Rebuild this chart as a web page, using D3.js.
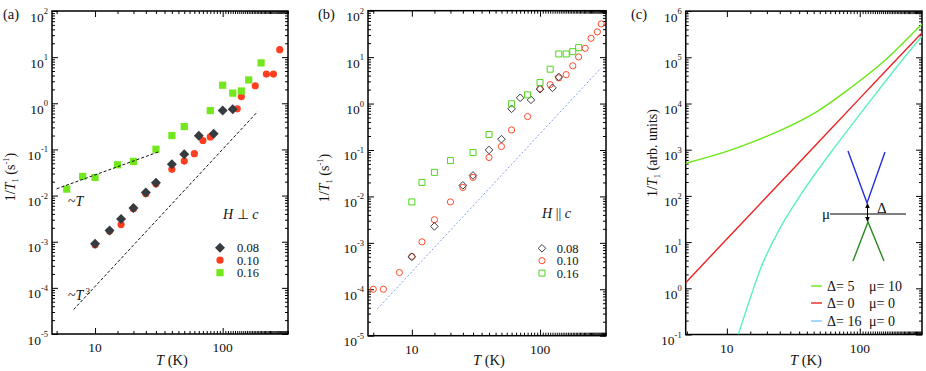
<!DOCTYPE html>
<html lang="en">
<head>
<meta charset="utf-8">
<script src="https://d3js.org/d3.v7.min.js"></script>
<style>
body { margin: 0; background: #fff; }
svg text { font-family: "Liberation Serif", "Times New Roman", serif; fill: #111; }
</style>
</head>
<body>
<script>

// ---- panel (a) : H perpendicular c, filled markers
var tA08 = [10, 13, 16, 20, 25, 30, 40, 50, 65, 85, 100, 120];
var rA08 = [9e-4, 1.76e-3, 3.1e-3, 5.4e-3, 0.0117, 0.019, 0.048, 0.079, 0.197, 0.218, 0.70, 0.745];
var tA10 = [10, 13, 16, 20, 25, 30, 40, 50, 60, 70, 80, 130, 140, 180, 220, 250, 280];
var rA10 = [8.6e-4, 1.7e-3, 2.35e-3, 5.2e-3, 0.011, 0.018, 0.037, 0.056, 0.081, 0.156, 0.187, 0.757, 1.4, 2.4, 4.3, 4.3, 14.5];
var tA16 = [6, 8, 10, 15, 20, 30, 40, 50, 80, 100, 120, 140, 160, 200];
var rA16 = [0.0138, 0.026, 0.0247, 0.0465, 0.055, 0.101, 0.2, 0.313, 0.695, 2.46, 1.66, 1.85, 3.2, 7.5];
var guideLinT = [[5, 0.014], [32, 0.09]];
var guideCubT = [[6.8, 3.4e-5], [188, 0.66]];

// ---- panel (b) : H parallel c, open markers
var tB08 = [10, 15, 25, 30, 40, 50, 60, 70, 85, 100, 125, 140];
var rB08 = [5e-4, 2.26e-3, 0.0173, 0.0283, 0.1, 0.171, 0.77, 1.33, 1.2, 2.04, 2.18, 3.75];
var tB10 = [5, 6, 8, 10, 12, 15, 20, 25, 30, 40, 50, 60, 80, 100, 120, 140, 160, 180, 200, 225, 250, 280, 300];
var rB10 = [1e-4, 1e-4, 2.3e-4, 5.1e-4, 1.05e-3, 3.15e-3, 7.6e-3, 0.0156, 0.0257, 0.069, 0.119, 0.27, 0.525, 2.1, 2.56, 3.57, 4.2, 6.5, 10.1, 15.5, 25.5, 35, 52];
var tB16 = [10, 12, 15, 20, 30, 40, 60, 80, 100, 120, 140, 160, 180, 200];
var rB16 = [7.6e-3, 0.02, 0.033, 0.059, 0.088, 0.215, 0.99, 1.54, 2.83, 5.5, 11.7, 11.7, 13.1, 16];
var guideB = [[5.4, 3.8e-5], [300, 5.9]];

// ---- panel (c) : model curves
var tC5 = [4.78, 10, 15, 27, 48, 85, 152, 271, 300];
var rC5 = [498, 920, 1400, 2850, 6780, 21600, 81900, 416000, 550000];
var tC0 = [4.8, 10, 30, 100, 300];
var rC0 = [1.24, 11.7, 330, 12900, 362000];
var tC16 = [12.2, 15.4, 18.8, 25.2, 36.6, 58, 94.8, 138, 193, 300];
var rC16 = [0.1, 0.774, 3.73, 20.4, 115, 740, 4760, 19200, 65600, 308000];

var legendFields = ['0.08', '0.10', '0.16'];
var legendC = [['\u0394= 5', '\u03bc= 10'], ['\u0394= 0', '\u03bc= 0'], ['\u0394= 16', '\u03bc= 0']];

var W = 926, H = 371;
var svg = d3.select('body').append('svg').attr('width', W).attr('height', H);

function zip(t, r) { return t.map(function(d, i) { return [d, r[i]]; }); }

// draws frame, inward ticks on all four sides and the tick labels
function panel(p) {
  var x = d3.scaleLog().domain(p.xd).range([p.l, p.r]);
  var y = d3.scaleLog().domain(p.yd).range([p.b, p.t]);
  var g = svg.append('g');
  var isPow = function(v) { return Math.abs(Math.log10(v) - Math.round(Math.log10(v))) < 1e-9; };
  var xt = x.ticks(50), yt = y.ticks(50);
  var xMaj = xt.filter(isPow), xMin = xt.filter(function(v) { return !isPow(v); });
  var yMaj = yt.filter(isPow), yMin = yt.filter(function(v) { return !isPow(v); });

  function ax(gen, scale, vals, size, tr) {
    g.append('g').attr('transform', tr)
      .call(gen(scale).tickValues(vals).tickSize(size).tickFormat(''))
      .call(function(s) { s.select('.domain').remove(); s.selectAll('line').attr('stroke', '#000'); });
  }
  ax(d3.axisBottom, x, xMin, -3, 'translate(0,' + p.b + ')');
  ax(d3.axisBottom, x, xMaj, -6, 'translate(0,' + p.b + ')');
  ax(d3.axisTop, x, xMin, -3, 'translate(0,' + p.t + ')');
  ax(d3.axisTop, x, xMaj, -6, 'translate(0,' + p.t + ')');
  ax(d3.axisLeft, y, yMin, -3, 'translate(' + p.l + ',0)');
  ax(d3.axisLeft, y, yMaj, -6, 'translate(' + p.l + ',0)');
  ax(d3.axisRight, y, yMin, -3, 'translate(' + p.r + ',0)');
  ax(d3.axisRight, y, yMaj, -6, 'translate(' + p.r + ',0)');

  g.append('rect').attr('x', p.l).attr('y', p.t).attr('width', p.r - p.l).attr('height', p.b - p.t)
    .attr('fill', 'none').attr('stroke', '#000').attr('stroke-width', 1.5);

  // y tick labels 10^n
  yMaj.forEach(function(v) {
    var t = g.append('text').attr('x', p.l - 4).attr('y', y(v) + 10.5)
      .attr('text-anchor', 'end').style('font-size', '13.5px');
    t.append('tspan').text('10');
    t.append('tspan').attr('dy', -7.5).style('font-size', '8.5px').text(Math.round(Math.log10(v)));
  });
  xMaj.forEach(function(v) {
    g.append('text').attr('x', x(v)).attr('y', p.b + 18).attr('text-anchor', 'middle')
      .style('font-size', '13.5px').text(v);
  });

  // x label
  var xl = g.append('text').attr('x', (p.l + p.r) / 2 + 2).attr('y', H - 6)
    .attr('text-anchor', 'middle').style('font-size', '14.5px');
  xl.append('tspan').style('font-style', 'italic').text('T');
  xl.append('tspan').text(' (K)');

  // y label
  var yl = g.append('text').attr('transform', 'translate(' + p.yl[0] + ',' + p.yl[1] + ') rotate(-90)')
    .attr('text-anchor', 'middle').style('font-size', '14px');
  yl.append('tspan').text('1/');
  yl.append('tspan').style('font-style', 'italic').text('T');
  yl.append('tspan').attr('dy', 3).style('font-size', '8.5px').text('1');
  yl.append('tspan').attr('dy', -3).text(p.unit[0]);
  if (p.unit[1]) {
    yl.append('tspan').attr('dy', -6).style('font-size', '8.5px').text(p.unit[1]);
    yl.append('tspan').attr('dy', 6).text(p.unit[2]);
  }

  g.append('text').attr('x', p.lab[0]).attr('y', 19).style('font-size', '14.5px').text(p.lab[1]);

  var cid = 'clip' + p.lab[1].charAt(1);
  svg.append('clipPath').attr('id', cid).append('rect')
    .attr('x', p.l).attr('y', p.t).attr('width', p.r - p.l).attr('height', p.b - p.t);
  var plot = svg.append('g').attr('clip-path', 'url(#' + cid + ')');
  return { x: x, y: y, g: g, plot: plot };
}

function diamond(s) { return 'M0,' + (-s) + 'L' + s + ',0L0,' + s + 'L' + (-s) + ',0Z'; }
function square(s) { return 'M' + (-s) + ',' + (-s) + 'H' + s + 'V' + s + 'H' + (-s) + 'Z'; }
function circle(s) { return d3.symbol(d3.symbolCircle, Math.PI * s * s)(); }

function markers(P, data, shape, size, fill, stroke, sw) {
  P.g.append('g').selectAll('path').data(data).enter().append('path')
    .attr('transform', function(d) { return 'translate(' + P.x(d[0]) + ',' + P.y(d[1]) + ')'; })
    .attr('d', shape(size)).attr('fill', fill).attr('stroke', stroke).attr('stroke-width', sw);
}

function guide(P, pts, color, dash, w) {
  P.plot.append('path').datum(pts)
    .attr('d', d3.line().x(function(d) { return P.x(d[0]); }).y(function(d) { return P.y(d[1]); }))
    .attr('fill', 'none').attr('stroke', color).attr('stroke-width', w).attr('stroke-dasharray', dash);
}

var cDia = '#363b40', cRed = '#ff3d1f', cGrn = '#72e81c';

// ============ (a)
var A = panel({ l: 52, r: 288, t: 11, b: 334, xd: [4.6, 325], yd: [1e-5, 1e2],
  yl: [15, 177], unit: [' (s', '-1', ')'], lab: [3, '(a)'] });
guide(A, guideLinT, '#111', '3,2', 1);
guide(A, guideCubT, '#111', '3,2', 1);
markers(A, zip(tA10, rA10), circle, 3.6, cRed, 'none', 0);
markers(A, zip(tA08, rA08), diamond, 5, cDia, 'none', 0);
markers(A, zip(tA16, rA16), square, 3.6, cGrn, 'none', 0);

var tl = A.g.append('text').attr('x', 68).attr('y', 206).style('font-size', '14px');
tl.append('tspan').text('~');
tl.append('tspan').style('font-style', 'italic').text('T');
var tc = A.g.append('text').attr('x', 68).attr('y', 300).style('font-size', '14px');
tc.append('tspan').text('~');
tc.append('tspan').style('font-style', 'italic').text('T');
tc.append('tspan').attr('dy', -6).attr('dx', 2).style('font-size', '9px').text('3');

var hA = A.g.append('text').attr('x', 223).attr('y', 219).style('font-size', '14px');
hA.append('tspan').style('font-style', 'italic').text('H');
hA.append('tspan').text(' \u22a5 ');
hA.append('tspan').style('font-style', 'italic').text('c');

var legA = [[diamond, 5, cDia], [circle, 3.6, cRed], [square, 3.6, cGrn]];
legA.forEach(function(m, i) {
  var yy = 247.7 + i * 12.5;
  A.g.append('path').attr('transform', 'translate(220,' + yy + ')').attr('d', m[0](m[1])).attr('fill', m[2]);
  A.g.append('text').attr('x', 237).attr('y', yy + 4.5).style('font-size', '12.5px').text(legendFields[i]);
});

// ============ (b)
var B = panel({ l: 368, r: 606, t: 10.7, b: 335.7, xd: [4.55, 327], yd: [1e-5, 1e2],
  yl: [329, 178], unit: [' (s', '-1', ')'], lab: [318, '(b)'] });
guide(B, guideB, '#7f9cf5', '2,2', 1);
markers(B, zip(tB10, rB10), circle, 3.1, 'none', '#ff4a2a', 1);
markers(B, zip(tB08, rB08), diamond, 3.8, 'none', '#3a3d42', 1);
markers(B, zip(tB16, rB16), square, 3, 'none', '#4fd61c', 1);

var hB = B.g.append('text').attr('x', 542).attr('y', 218).style('font-size', '14px');
hB.append('tspan').style('font-style', 'italic').text('H');
hB.append('tspan').text(' || ');
hB.append('tspan').style('font-style', 'italic').text('c');

var legB = [[diamond, 3.8, '#3a3d42'], [circle, 3.1, '#ff4a2a'], [square, 3, '#4fd61c']];
legB.forEach(function(m, i) {
  var yy = 248.3 + i * 12.4;
  B.g.append('path').attr('transform', 'translate(542,' + yy + ')').attr('d', m[0](m[1]))
    .attr('fill', 'none').attr('stroke', m[2]).attr('stroke-width', 1);
  B.g.append('text').attr('x', 556.7).attr('y', yy + 4.5).style('font-size', '12.5px').text(legendFields[i]);
});

// ============ (c)
var C = panel({ l: 685.7, r: 922, t: 11.1, b: 334.5, xd: [4.9, 294], yd: [1e-1, 1e6],
  yl: [657, 153], unit: [' (arb. units)'], lab: [631, '(c)'] });

var curveColors = ['#6ae614', '#ee2222', '#5cf0c0'];
var curves = [zip(tC5, rC5), zip(tC0, rC0), zip(tC16, rC16)];
var line = d3.line().curve(d3.curveCatmullRom.alpha(0.5))
  .x(function(d) { return C.x(d[0]); }).y(function(d) { return C.y(d[1]); });
curves.forEach(function(c, i) {
  C.plot.append('path').datum(c).attr('d', line).attr('fill', 'none')
    .attr('stroke', curveColors[i]).attr('stroke-width', 1.4);
});

// band diagram inset
var ins = C.g.append('g').attr('transform', 'translate(867,214)');
ins.append('path').attr('d', 'M-19,-63L0,-11L18,-62').attr('fill', 'none').attr('stroke', '#1f2fe0').attr('stroke-width', 1.4);
ins.append('path').attr('d', 'M-14,47L1,8L17,47').attr('fill', 'none').attr('stroke', '#2a8a22').attr('stroke-width', 1.4);
ins.append('line').attr('x1', -37).attr('x2', 39).attr('y1', 0).attr('y2', 0).attr('stroke', '#000').attr('stroke-width', 1.1);
ins.append('line').attr('x1', 0.5).attr('x2', 0.5).attr('y1', -8).attr('y2', 5).attr('stroke', '#000').attr('stroke-width', 1);
ins.append('path').attr('d', 'M0.5,-11L-1.8,-6L2.8,-6Z').attr('fill', '#000');
ins.append('path').attr('d', 'M0.5,8L-1.8,3L2.8,3Z').attr('fill', '#000');
ins.append('text').attr('x', -45).attr('y', 5).style('font-size', '15px').text('\u03bc');
ins.append('text').attr('x', 10).attr('y', -1).style('font-size', '15px').text('\u0394');

var legColors = ['#6ae614', '#ee2222', '#7cc8ff'];
legendC.forEach(function(r, i) {
  var yy = [286, 303, 321][i];
  C.g.append('line').attr('x1', 811).attr('x2', 822).attr('y1', yy).attr('y2', yy)
    .attr('stroke', legColors[i]).attr('stroke-width', 1.4);
  C.g.append('text').attr('x', 827).attr('y', yy + 5).style('font-size', '14px').text(r[0]);
  C.g.append('text').attr('x', 869).attr('y', yy + 5).style('font-size', '14px').text(r[1]);
});

</script>
</body>
</html>
